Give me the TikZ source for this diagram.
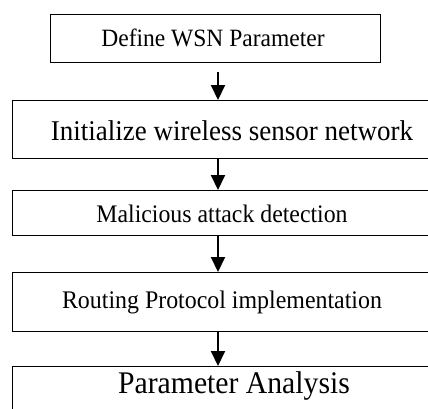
\documentclass[tikz,border=0pt]{standalone}
\usepackage{fontspec}
\setmainfont{Liberation Serif}
\usetikzlibrary{arrows.meta}
\newcommand{\vstretch}[1]{\scalebox{1}[1.06]{#1}}
\begin{document}
\begin{tikzpicture}[x=1pt,y=-1pt,
  box/.style={draw=black,line width=1.4pt,minimum width=#1,inner sep=0pt,anchor=north west},
  lbl/.style={inner sep=0pt,anchor=center},
  arr/.style={line width=2pt,-{Triangle[width=14pt,length=15pt]}}]
\useasboundingbox (0,0) rectangle (428,408);
\fill[white] (0,0) rectangle (428,408);
% boxes
\node[box=330pt,minimum height=48pt] (b1) at (50,14) {};
\node[box=440pt,minimum height=58pt] (b2) at (12,100) {};
\node[box=440pt,minimum height=45pt] (b3) at (12,190) {};
\node[box=440pt,minimum height=59pt] (b4) at (12,272) {};
\node[box=440pt,minimum height=60pt] (b5) at (12,366) {};
% texts
\node[lbl,font=\fontsize{23.5}{26}\selectfont] (t1) at (213,38) {\vstretch{Define WSN Parameter}};
\node[lbl,font=\fontsize{27}{30}\selectfont] (t2) at (232,131) {\vstretch{Initialize wireless sensor network}};
\node[lbl,font=\fontsize{23.8}{26}\selectfont] (t3) at (222,214) {\vstretch{Malicious attack detection}};
\node[lbl,font=\fontsize{23.9}{26}\selectfont] (t4) at (222,302) {\vstretch{Routing Protocol implementation}};
\node[lbl,font=\fontsize{29.7}{32}\selectfont] (t5) at (234,386) {\vstretch{Parameter Analysis}};
% arrow column
\coordinate (ax) at (218,0);
\coordinate (s1) at (218,72);
\draw[arr] (s1) -- (b2.north -| ax);
\draw[arr] (b2.south -| ax) -- (b3.north -| ax);
\draw[arr] (b3.south -| ax) -- (b4.north -| ax);
\draw[arr] (b4.south -| ax) -- (b5.north -| ax);
\end{tikzpicture}
\end{document}
